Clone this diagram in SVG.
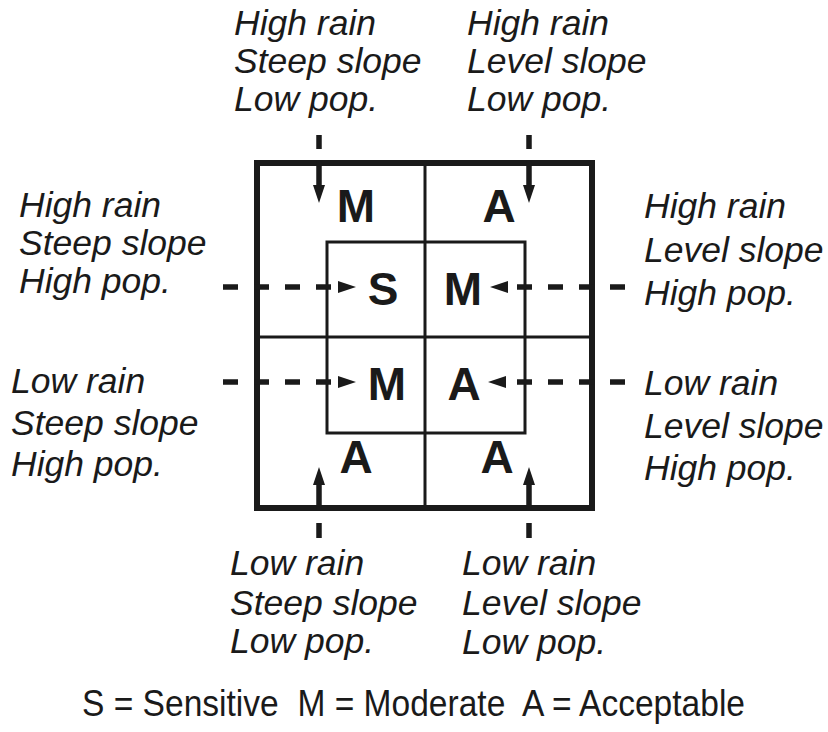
<svg xmlns="http://www.w3.org/2000/svg" width="828" height="732" viewBox="0 0 828 732">
<style>
.lbl{font-family:"Liberation Sans",Arial,sans-serif;font-style:italic;font-size:35.5px;fill:#1a1a1a}
.cell{font-family:"Liberation Sans",Arial,sans-serif;font-weight:bold;font-size:46px;fill:#1a1a1a;text-anchor:middle}
.leg{font-family:"Liberation Sans",Arial,sans-serif;font-size:36px;fill:#1a1a1a}
.outer{fill:none;stroke:#1a1a1a;stroke-width:6}
.thin{fill:none;stroke:#1a1a1a;stroke-width:3}
.con{fill:none;stroke:#1a1a1a;stroke-width:5.5;marker-end:url(#ah)}
</style>
<defs>
<marker id="ah" markerUnits="userSpaceOnUse" markerWidth="18" markerHeight="12" refX="0" refY="6" orient="auto">
<path d="M0,0 L18,6 L0,12 z" fill="#1a1a1a"/>
</marker>
</defs>
<rect width="828" height="732" fill="#ffffff"/>
<g id="grid">
<rect class="outer" x="257" y="163" width="335" height="345"/>
<rect class="thin" x="327" y="242" width="198" height="191"/>
<line class="thin" x1="425" y1="163" x2="425" y2="508"/>
<line class="thin" x1="257" y1="337" x2="592" y2="337"/>
</g>
<g id="cells">
<text class="cell" x="356" y="222">M</text>
<text class="cell" x="499" y="222">A</text>
<text class="cell" x="383" y="305">S</text>
<text class="cell" x="463" y="305">M</text>
<text class="cell" x="387" y="400">M</text>
<text class="cell" x="464" y="400">A</text>
<text class="cell" x="356" y="473">A</text>
<text class="cell" x="497" y="473">A</text>
</g>
<g id="connectors">
<path class="con" d="M319,135 V185" stroke-dasharray="14 12 60"/>
<path class="con" d="M529,135 V185" stroke-dasharray="14 12 60"/>
<path class="con" d="M319,538 V485" stroke-dasharray="15 13 60"/>
<path class="con" d="M529,538 V485" stroke-dasharray="15 13 60"/>
<path class="con" d="M223,287 H338" stroke-dasharray="15 16"/>
<path class="con" d="M223,382 H338" stroke-dasharray="15 16"/>
<path class="con" d="M625,287 H508" stroke-dasharray="15 16"/>
<path class="con" d="M625,382 H506" stroke-dasharray="15 16"/>
</g>
<g id="label-top-left">
<text class="lbl" x="234" y="35">High rain</text>
<text class="lbl" x="234" y="73">Steep slope</text>
<text class="lbl" x="234" y="111">Low pop.</text>
</g>
<g id="label-top-right">
<text class="lbl" x="467" y="35">High rain</text>
<text class="lbl" x="467" y="73">Level slope</text>
<text class="lbl" x="467" y="111">Low pop.</text>
</g>
<g id="label-mid-left">
<text class="lbl" x="19" y="217">High rain</text>
<text class="lbl" x="19" y="255">Steep slope</text>
<text class="lbl" x="19" y="293">High pop.</text>
</g>
<g id="label-mid-right">
<text class="lbl" x="644" y="218">High rain</text>
<text class="lbl" x="644" y="262">Level slope</text>
<text class="lbl" x="644" y="305">High pop.</text>
</g>
<g id="label-low-left">
<text class="lbl" x="11" y="393">Low rain</text>
<text class="lbl" x="11" y="435">Steep slope</text>
<text class="lbl" x="11" y="476">High pop.</text>
</g>
<g id="label-low-right">
<text class="lbl" x="644" y="395">Low rain</text>
<text class="lbl" x="644" y="438">Level slope</text>
<text class="lbl" x="644" y="480">High pop.</text>
</g>
<g id="label-bottom-left">
<text class="lbl" x="230" y="575">Low rain</text>
<text class="lbl" x="230" y="615">Steep slope</text>
<text class="lbl" x="230" y="653">Low pop.</text>
</g>
<g id="label-bottom-right">
<text class="lbl" x="462" y="575">Low rain</text>
<text class="lbl" x="462" y="615">Level slope</text>
<text class="lbl" x="462" y="654">Low pop.</text>
</g>
<g id="legend">
<text class="leg" x="82" y="716" textLength="663" lengthAdjust="spacingAndGlyphs" xml:space="preserve">S = Sensitive  M = Moderate  A = Acceptable</text>
</g>
</svg>
